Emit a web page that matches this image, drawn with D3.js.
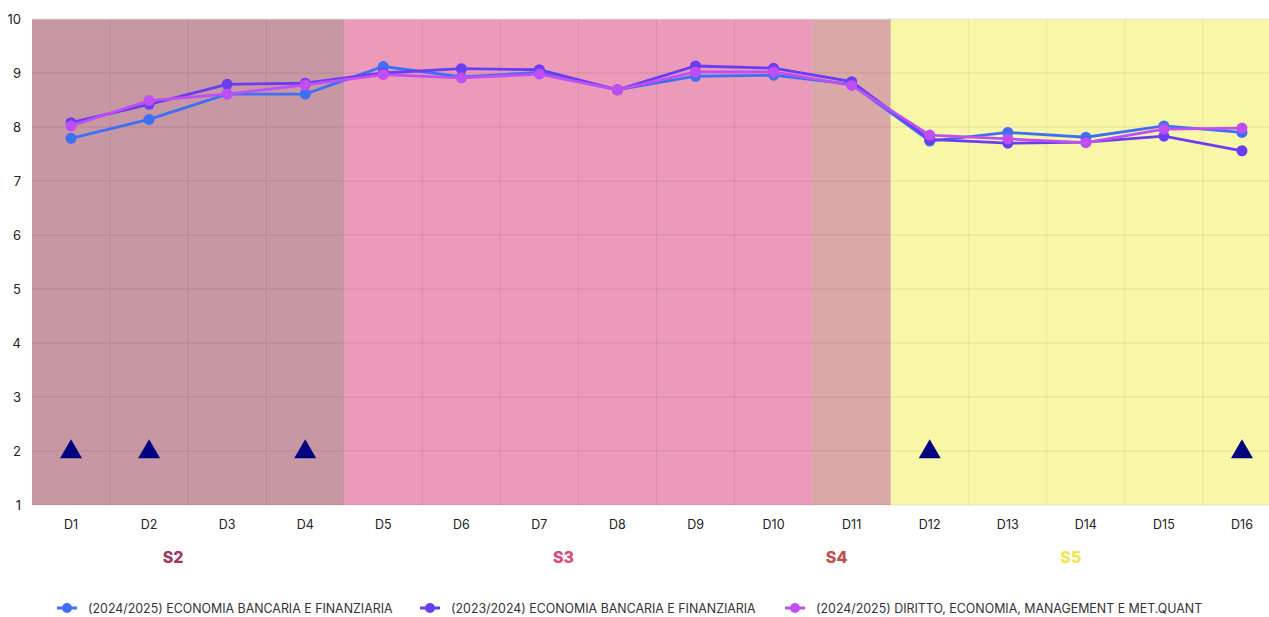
<html lang="en">
<head>
  <meta charset="UTF-8" />
  <title>Chart</title>
  <script src="https://d3js.org/d3.v7.min.js"></script>
  <style>
    body { margin: 0; background: #fff; }
    text { font-family: "Inter", "Noto Sans", sans-serif; }
  </style>
</head>
<body>
  <svg id="chart" width="1269" height="617"></svg>
  <script>
    const categories = ["D1","D2","D3","D4","D5","D6","D7","D8","D9","D10","D11","D12","D13","D14","D15","D16"];
    const seriesNames = [
      "(2024/2025) ECONOMIA BANCARIA E FINANZIARIA",
      "(2023/2024) ECONOMIA BANCARIA E FINANZIARIA",
      "(2024/2025) DIRITTO, ECONOMIA, MANAGEMENT E MET.QUANT"
    ];
    const blueValues    = [7.79, 8.14, 8.61, 8.61, 9.12, 8.93, 9.01, 8.69, 8.94, 8.96, 8.79, 7.74, 7.90, 7.81, 8.02, 7.90];
    const purpleValues  = [8.08, 8.42, 8.79, 8.81, 9.00, 9.08, 9.06, 8.69, 9.13, 9.09, 8.84, 7.77, 7.70, 7.72, 7.83, 7.56];
    const magentaValues = [8.02, 8.49, 8.61, 8.78, 8.97, 8.91, 8.98, 8.69, 9.02, 9.02, 8.77, 7.85, 7.78, 7.71, 7.96, 7.98];
    const seriesColors = ["#3f6ff5", "#6a3df5", "#c04ef5"];

    const yTicks = [1,2,3,4,5,6,7,8,9,10];
    const markers = ["D1","D2","D4","D12","D16"];
    const markerValue = 2;

    const sections = [
      { name: "S2", from: "D1", to: "D4", fill: "#c897a4", label: "#a2385f" },
      { name: "S3", from: "D5", to: "D10", fill: "#eb9ab9", label: "#e0487c" },
      { name: "S4", from: "D11", to: "D11", fill: "#daa8a6", label: "#c1524f" },
      { name: "S5", from: "D12", to: "D16", fill: "#f8f7a7", label: "#f0e64e" }
    ];

    const svg = d3.select("svg#chart");
    const margin = { top: 19, left: 32 };
    const plotRight = 1281;

    const x = d3.scaleBand().domain(categories).range([margin.left, plotRight]);
    const y = d3.scaleLinear().domain([1, 10]).range([505, margin.top]);
    const cx = d => x(d) + x.bandwidth() / 2;

    // section backgrounds
    svg.append("g")
      .selectAll("rect")
      .data(sections)
      .join("rect")
      .attr("x", d => x(d.from))
      .attr("y", y(10))
      .attr("width", d => x(d.to) + x.bandwidth() - x(d.from))
      .attr("height", y(1) - y(10))
      .attr("fill", d => d.fill);

    // gridlines
    const grid = svg.append("g");
    grid.selectAll("line.h")
      .data(yTicks.filter(t => t < 10))
      .join("line")
      .attr("class", "h")
      .attr("x1", margin.left).attr("x2", plotRight)
      .attr("y1", d => y(d)).attr("y2", d => y(d))
      .attr("stroke", "rgba(0,0,0,0.09)");
    grid.append("line")
      .attr("x1", margin.left).attr("x2", plotRight)
      .attr("y1", y(10)).attr("y2", y(10))
      .attr("stroke", "#e2e2e2");
    grid.selectAll("line.v")
      .data(categories.slice(1))
      .join("line")
      .attr("class", "v")
      .attr("x1", d => x(d)).attr("x2", d => x(d))
      .attr("y1", y(10)).attr("y2", y(1))
      .attr("stroke", "rgba(0,0,0,0.07)");

    // y axis labels
    svg.append("g")
      .selectAll("text")
      .data(yTicks)
      .join("text")
      .attr("x", 21)
      .attr("y", d => y(d) + 4.5)
      .attr("text-anchor", "end")
      .attr("font-size", 13)
      .attr("fill", "#222")
      .text(d => d);

    // x axis labels
    svg.append("g")
      .selectAll("text")
      .data(categories)
      .join("text")
      .attr("x", d => cx(d))
      .attr("y", 529)
      .attr("text-anchor", "middle")
      .attr("font-size", 12.5)
      .attr("fill", "#222")
      .text(d => d);

    // section labels
    svg.append("g")
      .selectAll("text")
      .data(sections)
      .join("text")
      .attr("x", d => (x(d.from) + x(d.to) + x.bandwidth()) / 2 - 15)
      .attr("y", 563)
      .attr("text-anchor", "middle")
      .attr("font-size", 16)
      .attr("font-weight", "800")
      .attr("fill", d => d.label)
      .text(d => d.name);

    // series lines and points
    const allSeries = [blueValues, purpleValues, magentaValues];
    const line = d3.line().x((d, i) => cx(categories[i])).y(d => y(d));
    allSeries.forEach((vals, s) => {
      const g = svg.append("g");
      g.append("path")
        .attr("d", line(vals))
        .attr("fill", "none")
        .attr("stroke", seriesColors[s])
        .attr("stroke-width", 2.8);
      g.selectAll("circle")
        .data(vals)
        .join("circle")
        .attr("cx", (d, i) => cx(categories[i]))
        .attr("cy", d => y(d))
        .attr("r", 5.5)
        .attr("fill", seriesColors[s]);
    });

    // triangle markers
    svg.append("g")
      .selectAll("path")
      .data(markers)
      .join("path")
      .attr("d", d3.symbol().type(d3.symbolTriangle).size(210))
      .attr("transform", d => `translate(${cx(d)},${y(markerValue) + 1})`)
      .attr("fill", "#000080");

    // legend
    const legendX = [57, 420, 785];
    const legend = svg.append("g");
    seriesNames.forEach((name, i) => {
      const lg = legend.append("g").attr("transform", `translate(${legendX[i]},608)`);
      lg.append("line")
        .attr("x1", 0).attr("x2", 20)
        .attr("y1", 0).attr("y2", 0)
        .attr("stroke", seriesColors[i])
        .attr("stroke-width", 3);
      lg.append("circle")
        .attr("cx", 10).attr("cy", 0).attr("r", 5)
        .attr("fill", seriesColors[i]);
      lg.append("text")
        .attr("x", 31).attr("y", 4.5)
        .attr("font-size", 12.4)
        .attr("fill", "#333")
        .text(name);
    });
  </script>
</body>
</html>
